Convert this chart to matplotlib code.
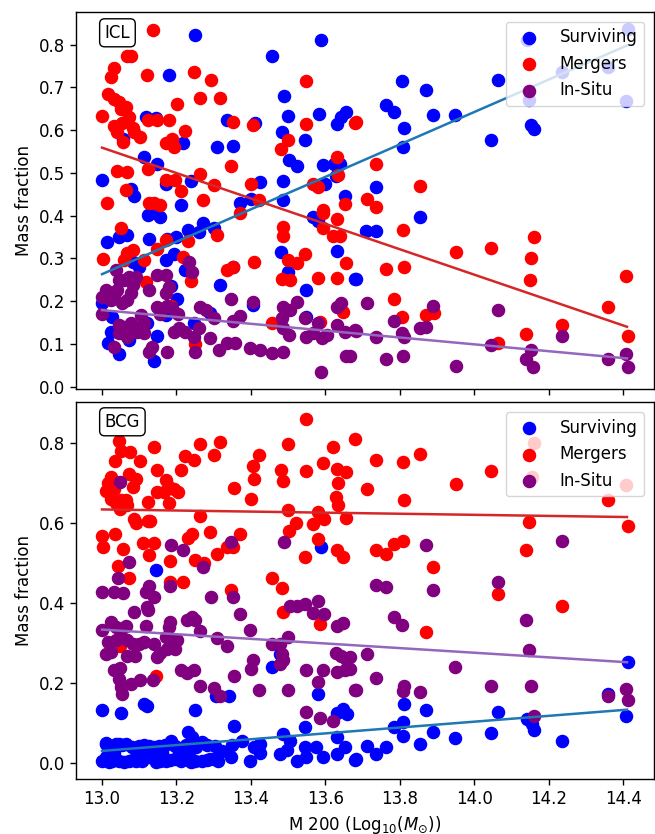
import numpy as np
import matplotlib
matplotlib.use('Agg')
import matplotlib.pyplot as plt

plt.rcParams['font.size'] = 12
plt.rcParams['xtick.major.size'] = 4.2
plt.rcParams['ytick.major.size'] = 4.2
plt.rcParams['xtick.major.width'] = 1.0
plt.rcParams['ytick.major.width'] = 1.0
plt.rcParams['axes.linewidth'] = 1.0

# ---- ICL fractions ----
icl_surv_x = [13.25, 13.179, 13.456, 13.587, 13.117, 13.144, 13.057, 13.218, 13.113, 13.147,
              13.0, 13.077, 13.086, 13.173, 13.239, 13.213, 13.336, 13.411, 13.31, 13.352,
              13.425, 13.371, 13.40, 13.485, 13.485, 13.489, 13.499, 13.483, 13.545, 13.501,
              13.523, 13.582, 13.63, 13.643, 13.656, 13.594, 13.622, 13.64, 13.628, 13.598,
              13.652, 13.123, 13.141, 13.155, 13.013, 13.046, 13.068, 13.126, 13.175, 13.20,
              13.23, 13.26, 13.271, 13.30, 13.099, 13.082, 13.171, 13.193, 13.224, 13.184,
              13.202, 13.318, 13.353, 13.481, 13.499, 13.548, 13.567, 13.58, 13.631, 13.679,
              13.0, 13.028, 13.024, 13.015, 13.046, 13.072, 13.139, 13.148, 13.122, 13.173,
              13.246, 13.291, 13.405, 13.548, 13.806, 13.87, 13.763, 13.783, 13.89, 13.949,
              13.81, 13.808, 14.044, 14.064, 14.151, 14.16, 14.147, 14.236, 14.36, 14.412,
              14.408, 14.142, 13.735, 13.855, 13.71, 13.735, 13.681]
icl_surv_y = [0.823, 0.728, 0.774, 0.812, 0.63, 0.629, 0.58, 0.571, 0.537, 0.521,
              0.484, 0.463, 0.447, 0.473, 0.482, 0.424, 0.623, 0.616, 0.56, 0.564,
              0.478, 0.43, 0.44, 0.482, 0.436, 0.681, 0.632, 0.595, 0.578, 0.529,
              0.515, 0.637, 0.615, 0.63, 0.642, 0.518, 0.52, 0.52, 0.492, 0.473,
              0.445, 0.401, 0.405, 0.397, 0.338, 0.35, 0.354, 0.346, 0.346, 0.35,
              0.367, 0.362, 0.383, 0.37, 0.28, 0.292, 0.296, 0.311, 0.273, 0.235,
              0.204, 0.237, 0.28, 0.315, 0.268, 0.226, 0.397, 0.387, 0.317, 0.251,
              0.195, 0.163, 0.128, 0.101, 0.076, 0.109, 0.06, 0.118, 0.149, 0.167,
              0.149, 0.173, 0.191, 0.163, 0.714, 0.693, 0.659, 0.642, 0.636, 0.636,
              0.606, 0.56, 0.576, 0.718, 0.613, 0.603, 0.671, 0.735, 0.747, 0.837,
              0.668, 0.811, 0.468, 0.397, 0.363, 0.363, 0.251]

icl_merg_x = [13.138, 13.246, 13.293, 13.12, 13.068, 13.077, 13.032, 13.024, 13.015, 13.032,
              13.046, 13.05, 13.064, 13.072, 13.0, 13.055, 13.032, 13.041, 13.082, 13.086,
              13.101, 13.056, 13.123, 13.148, 13.179, 13.202, 13.224, 13.262, 13.318, 13.171,
              13.189, 13.193, 13.353, 13.405, 13.346, 13.548, 13.548, 13.48, 13.499, 13.631,
              13.634, 13.679, 13.041, 13.066, 13.123, 13.171, 13.197, 13.211, 13.262, 13.30,
              13.064, 13.013, 13.126, 13.139, 13.157, 13.271, 13.40, 13.423, 13.566, 13.58,
              13.652, 13.594, 13.05, 13.068, 13.082, 13.059, 13.004, 13.113, 13.147, 13.173,
              13.23, 13.309, 13.371, 13.218, 13.24, 13.117, 13.336, 13.353, 13.409, 13.485,
              13.485, 13.483, 13.505, 13.50, 13.523, 13.545, 13.58, 13.631, 13.656, 13.594,
              13.594, 13.63, 13.62, 13.638, 13.456, 13.585, 13.647, 13.251, 13.184, 13.681,
              13.735, 13.854, 13.711, 13.735, 13.808, 13.763, 13.81, 13.951, 14.044, 14.16,
              14.151, 14.149, 14.407, 14.359, 14.412, 14.236, 14.139, 14.064, 13.783, 13.806,
              13.87, 13.892]
icl_merg_y = [0.834, 0.735, 0.718, 0.73, 0.773, 0.773, 0.745, 0.724, 0.685, 0.673,
              0.665, 0.65, 0.654, 0.63, 0.634, 0.616, 0.609, 0.595, 0.606, 0.595,
              0.584, 0.572, 0.623, 0.623, 0.623, 0.66, 0.598, 0.676, 0.676, 0.57,
              0.58, 0.56, 0.619, 0.611, 0.515, 0.714, 0.615, 0.556, 0.577, 0.537,
              0.496, 0.616, 0.504, 0.501, 0.51, 0.484, 0.484, 0.457, 0.498, 0.471,
              0.461, 0.43, 0.43, 0.43, 0.426, 0.436, 0.475, 0.437, 0.475, 0.467,
              0.428, 0.412, 0.372, 0.313, 0.319, 0.297, 0.298, 0.296, 0.321, 0.342,
              0.341, 0.354, 0.405, 0.303, 0.247, 0.245, 0.272, 0.28, 0.292, 0.373,
              0.352, 0.251, 0.249, 0.296, 0.288, 0.311, 0.253, 0.253, 0.288, 0.405,
              0.37, 0.393, 0.352, 0.352, 0.148, 0.152, 0.175, 0.10, 0.188, 0.619,
              0.521, 0.469, 0.438, 0.42, 0.367, 0.274, 0.279, 0.315, 0.325, 0.35,
              0.301, 0.249, 0.258, 0.187, 0.118, 0.144, 0.123, 0.103, 0.204, 0.162,
              0.167, 0.173]

icl_situ_x = [13.0, 13.0, 13.01, 13.024, 13.032, 13.041, 13.055, 13.068, 13.077, 13.046,
              13.059, 13.072, 13.082, 13.09, 13.037, 13.046, 13.059, 13.068, 13.077, 13.086,
              13.046, 13.068, 13.032, 13.095, 13.113, 13.104, 13.113, 13.126, 13.148, 13.171,
              13.171, 13.179, 13.147, 13.157, 13.175, 13.189, 13.203, 13.135, 13.126, 13.175,
              13.193, 13.206, 13.224, 13.246, 13.26, 13.251, 13.233, 13.242, 13.264, 13.278,
              13.30, 13.346, 13.353, 13.371, 13.405, 13.291, 13.313, 13.336, 13.358, 13.398,
              13.425, 13.456, 13.487, 13.487, 13.505, 13.483, 13.487, 13.503, 13.523, 13.545,
              13.549, 13.567, 13.58, 13.59, 13.603, 13.63, 13.643, 13.63, 13.652, 13.679,
              13.656, 13.587, 13.711, 13.681, 13.665, 13.735, 13.783, 13.806, 13.81, 13.763,
              13.808, 13.854, 13.87, 13.89, 13.951, 14.064, 14.044, 14.151, 14.139, 14.158,
              14.236, 14.359, 14.407, 14.412]
icl_situ_y = [0.21, 0.171, 0.226, 0.202, 0.214, 0.226, 0.195, 0.202, 0.218, 0.249,
              0.249, 0.257, 0.237, 0.257, 0.272, 0.144, 0.14, 0.132, 0.148, 0.136,
              0.125, 0.117, 0.093, 0.128, 0.125, 0.167, 0.148, 0.226, 0.261, 0.261,
              0.218, 0.233, 0.187, 0.171, 0.188, 0.183, 0.171, 0.093, 0.082, 0.082,
              0.128, 0.136, 0.128, 0.117, 0.136, 0.082, 0.292, 0.268, 0.187, 0.179,
              0.16, 0.206, 0.154, 0.165, 0.198, 0.113, 0.086, 0.101, 0.101, 0.09,
              0.086, 0.079, 0.082, 0.187, 0.179, 0.16, 0.136, 0.121, 0.198, 0.16,
              0.117, 0.125, 0.148, 0.113, 0.121, 0.187, 0.195, 0.144, 0.128, 0.132,
              0.072, 0.035, 0.196, 0.131, 0.072, 0.117, 0.154, 0.126, 0.115, 0.065,
              0.072, 0.136, 0.14, 0.188, 0.049, 0.179, 0.097, 0.086, 0.064, 0.047,
              0.118, 0.064, 0.076, 0.045]

# ---- BCG fractions ----
bcg_surv_x = [13.144, 13.587, 13.0, 13.05, 13.113, 13.12, 13.251, 13.307, 13.34, 13.355,
              13.456, 13.478, 13.58, 13.545, 13.63, 13.646, 13.658, 13.23, 13.242, 13.01,
              13.037, 13.055, 13.012, 13.046, 13.064, 13.099, 13.126, 13.153, 13.184, 13.269,
              13.304, 13.322, 13.0, 13.019, 13.046, 13.072, 13.09, 13.01, 13.126, 13.144,
              13.171, 13.197, 13.117, 13.135, 13.162, 13.206, 13.224, 13.251, 13.269, 13.291,
              13.233, 13.349, 13.376, 13.407, 13.425, 13.487, 13.505, 13.545, 13.576, 13.63,
              13.652, 13.496, 13.346, 13.398, 13.478, 13.523, 13.549, 13.594, 13.63, 13.679,
              13.425, 13.30, 14.412, 14.359, 13.81, 13.87, 14.064, 14.142, 14.154, 14.16,
              14.407, 13.808, 13.783, 13.808, 13.89, 13.854, 13.949, 14.044, 14.236, 13.711,
              13.735, 13.763, 13.681,
              13.028, 13.058, 13.083, 13.108, 13.157, 13.183, 13.212, 13.238, 13.281, 13.312,
              13.081, 13.112, 13.139, 13.168, 13.197, 13.226, 13.252, 13.283, 13.032, 13.092]
bcg_surv_y = [0.484, 0.54, 0.133, 0.125, 0.148, 0.144, 0.133, 0.167, 0.167, 0.094,
              0.24, 0.272, 0.172, 0.092, 0.125, 0.136, 0.123, 0.078, 0.065, 0.049,
              0.049, 0.047, 0.05, 0.048, 0.048, 0.044, 0.044, 0.044, 0.055, 0.053,
              0.044, 0.032, 0.007, 0.003, 0.005, 0.005, 0.007, 0.015, 0.015, 0.003,
              0.007, 0.011, 0.028, 0.024, 0.028, 0.024, 0.011, 0.007, 0.007, 0.011,
              0.028, 0.047, 0.057, 0.042, 0.049, 0.074, 0.057, 0.04, 0.04, 0.065,
              0.04, 0.033, 0.015, 0.007, 0.024, 0.005, 0.015, 0.017, 0.024, 0.008,
              0.025, 0.011, 0.253, 0.173, 0.148, 0.132, 0.128, 0.111, 0.098, 0.083,
              0.117, 0.102, 0.09, 0.069, 0.078, 0.048, 0.063, 0.075, 0.055, 0.044,
              0.024, 0.04, 0.011,
              0.006, 0.004, 0.008, 0.006, 0.005, 0.009, 0.006, 0.004, 0.008, 0.006,
              0.042, 0.045, 0.04, 0.046, 0.043, 0.047, 0.041, 0.046, 0.026, 0.03]

bcg_merg_x = [13.548, 13.046, 13.139, 13.262, 13.318, 13.499, 13.621, 13.679, 13.034, 13.05,
              13.075, 13.101, 13.148, 13.224, 13.246, 13.30, 13.213, 13.405, 13.409, 13.423,
              13.48, 13.485, 13.548, 13.594, 13.631, 13.655, 13.634, 13.628, 13.634, 13.655,
              13.355, 13.40, 13.499, 13.521, 13.58, 13.596, 13.567, 13.503, 13.58, 13.545,
              13.63, 13.646, 13.024, 13.015, 13.01, 13.032, 13.024, 13.037, 13.05, 13.064,
              13.068, 13.048, 13.072, 13.09, 13.082, 13.123, 13.148, 13.166, 13.173, 13.179,
              13.193, 13.203, 13.179, 13.086, 13.09, 13.123, 13.129, 13.262, 13.0, 13.004,
              13.034, 13.056, 13.043, 13.072, 13.111, 13.139, 13.126, 13.182, 13.182, 13.218,
              13.23, 13.242, 13.291, 13.251, 13.273, 13.31, 13.336, 13.353, 13.371, 13.346,
              13.456, 13.483, 13.735, 13.808, 13.854, 14.044, 14.16, 14.154, 14.407, 13.711,
              13.951, 13.81, 14.359, 14.148, 14.412, 13.735, 13.763, 13.783, 13.808, 13.89,
              14.139, 14.064, 14.236, 13.87, 13.487, 13.585, 13.048, 13.144]
bcg_merg_y = [0.859, 0.805, 0.79, 0.798, 0.803, 0.798, 0.789, 0.809, 0.755, 0.78,
              0.778, 0.755, 0.732, 0.768, 0.757, 0.769, 0.732, 0.742, 0.711, 0.769,
              0.732, 0.705, 0.73, 0.751, 0.736, 0.728, 0.699, 0.665, 0.644, 0.613,
              0.688, 0.661, 0.633, 0.60, 0.628, 0.611, 0.597, 0.58, 0.559, 0.514,
              0.532, 0.515, 0.715, 0.699, 0.68, 0.684, 0.659, 0.649, 0.657, 0.657,
              0.644, 0.636, 0.722, 0.711, 0.689, 0.653, 0.678, 0.678, 0.707, 0.69,
              0.684, 0.678, 0.649, 0.611, 0.60, 0.605, 0.605, 0.617, 0.567, 0.54,
              0.572, 0.534, 0.492, 0.464, 0.549, 0.55, 0.519, 0.505, 0.452, 0.452,
              0.563, 0.572, 0.577, 0.507, 0.50, 0.522, 0.54, 0.54, 0.573, 0.433,
              0.463, 0.438, 0.758, 0.753, 0.773, 0.73, 0.80, 0.715, 0.694, 0.686,
              0.697, 0.658, 0.658, 0.603, 0.592, 0.533, 0.522, 0.547, 0.555, 0.49,
              0.533, 0.423, 0.392, 0.328, 0.378, 0.349, 0.292, 0.219]

bcg_situ_x = [13.048, 13.072, 13.043, 13.184, 13.218, 13.271, 13.346, 13.489, 13.0, 13.032,
              13.057, 13.126, 13.117, 13.139, 13.182, 13.293, 13.353, 13.87, 14.236, 13.735,
              13.763, 13.89, 14.064, 13.783, 13.806, 14.139, 14.148, 13.665, 13.665, 13.711,
              13.735, 13.681, 13.949, 13.81, 13.808, 13.854, 14.044, 14.151, 14.16, 14.359,
              14.407, 14.412, 13.086, 13.122, 13.123, 13.117, 13.179, 13.182, 13.229, 13.242,
              13.251, 13.264, 13.371, 13.398, 13.0, 13.024, 13.037, 13.064, 13.015, 13.037,
              13.05, 13.068, 13.082, 13.099, 13.01, 13.024, 13.068, 13.088, 13.032, 13.048,
              13.046, 13.05, 13.055, 13.077, 13.102, 13.113, 13.139, 13.148, 13.157, 13.175,
              13.197, 13.202, 13.171, 13.184, 13.138, 13.211, 13.229, 13.246, 13.262, 13.30,
              13.318, 13.309, 13.336, 13.355, 13.405, 13.40, 13.423, 13.456, 13.478, 13.483,
              13.485, 13.478, 13.499, 13.499, 13.548, 13.594, 13.58, 13.628, 13.643, 13.656,
              13.631, 13.652, 13.679, 13.548, 13.585, 13.621, 13.505, 13.523, 13.545, 13.567,
              13.58, 13.596, 13.63, 13.646]
bcg_situ_y = [0.703, 0.503, 0.464, 0.544, 0.532, 0.49, 0.553, 0.553, 0.428, 0.428,
              0.425, 0.444, 0.428, 0.415, 0.444, 0.415, 0.415, 0.544, 0.555, 0.446,
              0.44, 0.434, 0.453, 0.365, 0.345, 0.359, 0.284, 0.265, 0.236, 0.272,
              0.213, 0.182, 0.24, 0.194, 0.18, 0.178, 0.194, 0.192, 0.117, 0.169,
              0.186, 0.157, 0.378, 0.39, 0.382, 0.344, 0.34, 0.353, 0.357, 0.365,
              0.359, 0.33, 0.374, 0.332, 0.332, 0.353, 0.34, 0.342, 0.303, 0.307,
              0.319, 0.307, 0.297, 0.299, 0.274, 0.278, 0.267, 0.267, 0.232, 0.238,
              0.211, 0.19, 0.173, 0.197, 0.207, 0.303, 0.299, 0.265, 0.275, 0.286,
              0.286, 0.307, 0.315, 0.311, 0.209, 0.232, 0.225, 0.232, 0.192, 0.189,
              0.167, 0.313, 0.294, 0.219, 0.257, 0.236, 0.183, 0.299, 0.299, 0.274,
              0.257, 0.247, 0.315, 0.182, 0.234, 0.234, 0.203, 0.275, 0.267, 0.261,
              0.228, 0.234, 0.182, 0.128, 0.114, 0.105, 0.394, 0.394, 0.397, 0.375,
              0.405, 0.372, 0.344, 0.35]

# linear trend end values at the lowest and highest halo mass
fit_x = [13.0, 14.41]
icl_fits = {'Surviving': [0.263, 0.798], 'Mergers': [0.559, 0.140], 'In-Situ': [0.179, 0.066]}
bcg_fits = {'Surviving': [0.031, 0.134], 'Mergers': [0.634, 0.615], 'In-Situ': [0.334, 0.2525]}

labels = ['Surviving', 'Mergers', 'In-Situ']
dot_colors = ['blue', 'red', 'purple']
line_colors = ['tab:blue', 'tab:red', 'tab:purple']

fig, (ax1, ax2) = plt.subplots(2, 1, sharex=True, figsize=(6.55, 8.34), dpi=100)
fig.subplots_adjust(left=0.1156, right=0.9985, top=0.986, bottom=0.0656, hspace=0.0355)

panels = [
    (ax1, 'ICL', [(icl_surv_x, icl_surv_y), (icl_merg_x, icl_merg_y), (icl_situ_x, icl_situ_y)], icl_fits, 0.944),
    (ax2, 'BCG', [(bcg_surv_x, bcg_surv_y), (bcg_merg_x, bcg_merg_y), (bcg_situ_x, bcg_situ_y)], bcg_fits, 0.948),
]

for ax, name, series, fits, ty in panels:
    for (xs, ys), lab, c in zip(series, labels, dot_colors):
        ax.scatter(xs, ys, s=76, color=c, label=lab)
    for lab, c in zip(labels, line_colors):
        ax.plot(fit_x, fits[lab], color=c, lw=1.8)
    ax.text(0.05, ty, name, transform=ax.transAxes, ha='left', va='center',
            bbox=dict(boxstyle='round', facecolor='white', edgecolor='black'))
    ax.set_ylabel('Mass fraction')
    ax.legend(loc='upper right', borderaxespad=0.6)

ax2.set_xlabel(r'M 200 (Log$_{10}$($M_{\odot}$))')

fig.savefig('out.png', dpi=100)
